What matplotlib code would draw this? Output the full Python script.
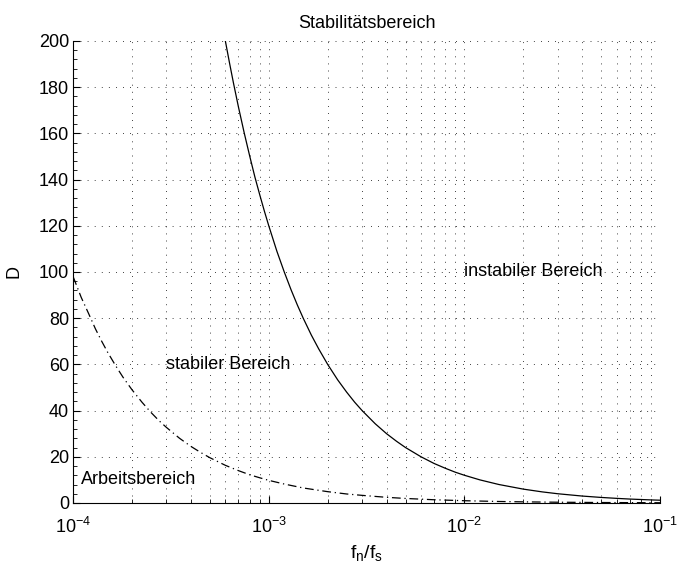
import matplotlib
matplotlib.use("Agg")
import matplotlib.pyplot as plt
from matplotlib.ticker import LogLocator, AutoMinorLocator, NullFormatter

plt.rcParams['font.family'] = ['Liberation Sans', 'DejaVu Sans']
plt.rcParams['mathtext.fontset'] = 'custom'
plt.rcParams['mathtext.rm'] = 'Liberation Sans'
plt.rcParams['mathtext.it'] = 'Liberation Sans'
plt.rcParams['mathtext.default'] = 'regular'

# values
# stability limit (solid line)
fn_grenze = [6.0e-4, 6.3e-4, 6.6e-4, 7.0e-4, 7.5e-4, 8.0e-4, 8.5e-4, 9.0e-4, 9.5e-4,
             1.0e-3, 1.1e-3, 1.2e-3, 1.3e-3, 1.4e-3, 1.5e-3, 1.65e-3, 1.8e-3, 2.0e-3,
             2.25e-3, 2.5e-3, 2.75e-3, 3.0e-3, 3.5e-3, 4.0e-3, 4.5e-3, 5.0e-3, 6.0e-3,
             7.0e-3, 8.0e-3, 9.0e-3, 1.0e-2, 1.2e-2, 1.5e-2, 2.0e-2, 2.5e-2, 3.0e-2,
             4.0e-2, 5.0e-2, 6.0e-2, 7.0e-2, 8.0e-2, 9.0e-2, 1.0e-1]
D_grenze = [200, 190.5, 181.8, 171.4, 160, 150, 141, 133.3, 126.3,
            120, 109, 100, 92.3, 85.7, 80, 72.7, 66.7, 60,
            53.3, 48, 43.6, 40, 34.3, 30, 26.7, 24, 20,
            17.1, 15, 13.3, 12, 10, 8, 6, 4.8, 4,
            3, 2.4, 2, 1.7, 1.5, 1.33, 1.2]

# working range (dash-dot line)
fn_arbeit = [1.0e-4, 1.1e-4, 1.2e-4, 1.3e-4, 1.4e-4, 1.5e-4, 1.65e-4, 1.8e-4, 2.0e-4,
             2.25e-4, 2.5e-4, 2.75e-4, 3.0e-4, 3.5e-4, 4.0e-4, 4.5e-4, 5.0e-4, 6.0e-4,
             7.0e-4, 8.0e-4, 9.0e-4, 1.0e-3, 1.2e-3, 1.5e-3, 2.0e-3, 2.5e-3, 3.0e-3,
             4.0e-3, 5.0e-3, 7.0e-3, 1.0e-2, 1.5e-2, 2.0e-2, 3.0e-2, 5.0e-2, 1.0e-1]
D_arbeit = [98, 89, 82, 75.4, 70, 65.3, 59.4, 54.4, 49,
            43.6, 39.2, 35.6, 32.7, 28, 24.5, 21.8, 19.6, 16.3,
            14, 12.2, 10.9, 9.8, 8.2, 6.5, 4.9, 3.9, 3.3,
            2.45, 1.96, 1.4, 0.98, 0.65, 0.49, 0.33, 0.2, 0.1]

labels = ["instabiler Bereich", "stabiler Bereich", "Arbeitsbereich"]
label_x = [1e-2, 3e-4, 1.1e-4]
label_y = [100, 60, 10]

fig = plt.figure(figsize=(6.77, 5.63), dpi=100)
ax = fig.add_axes([0.108, 0.1066, 0.867, 0.8206])

ax.semilogx(fn_grenze, D_grenze, 'k-', linewidth=0.9)
ax.semilogx(fn_arbeit, D_arbeit, 'k-.', linewidth=0.9, dashes=(7, 3, 1, 3))

for t, x, y in zip(labels, label_x, label_y):
    ax.text(x, y, t, fontsize=13, ha='left', va='center')

ax.set_xlim(1e-4, 1e-1)
ax.set_ylim(0, 200)
ax.set_yticks(range(0, 201, 20))
ax.yaxis.set_minor_locator(AutoMinorLocator(5))
ax.xaxis.set_minor_locator(LogLocator(base=10, subs=range(2, 10), numticks=20))
ax.xaxis.set_minor_formatter(NullFormatter())

gridstyle = dict(color='k', linestyle=(0, (1, 7.5)), linewidth=0.6)
ax.grid(True, which='major', axis='both', **gridstyle)
ax.grid(True, which='minor', axis='x', **gridstyle)

for s in ['top', 'right']:
    ax.spines[s].set_visible(False)
ax.tick_params(which='both', direction='in', labelsize=13, top=False, right=False)
ax.tick_params(which='major', length=5)
ax.tick_params(which='minor', length=3)
ax.tick_params(axis='x', pad=10)
ax.tick_params(axis='y', pad=3)

ax.set_title("Stabilitätsbereich", fontsize=13, pad=9)
ax.set_xlabel(r"$f_n/f_s$", fontsize=14, labelpad=4)
ax.set_ylabel("D", fontsize=13, labelpad=12)

fig.savefig("out.png", dpi=100)
